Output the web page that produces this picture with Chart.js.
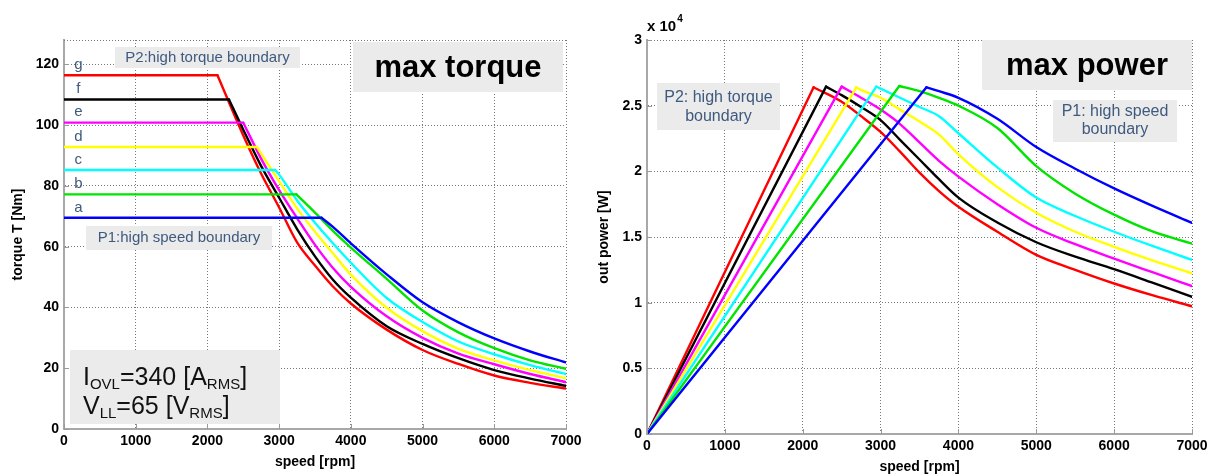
<!DOCTYPE html>
<html><head><meta charset="utf-8">
<script src="https://cdn.jsdelivr.net/npm/chart.js@4.4.0/dist/chart.umd.min.js"></script>
<style>
html,body{margin:0;padding:0;background:#fff;width:1217px;height:474px;overflow:hidden;}
#torque{position:absolute;left:0;top:0;}
#power{position:absolute;left:590px;top:0;}
</style></head><body>
<canvas id="torque" width="590" height="474"></canvas>
<canvas id="power" width="627" height="474"></canvas>
<script>
// ---------- data ----------
const speedTicks  = [0,1000,2000,3000,4000,5000,6000,7000];
const torqueTicks = [0,20,40,60,80,100,120];
const powerTicks  = [0,0.5,1,1.5,2,2.5,3];
const curveLetters = ['a','b','c','d','e','f','g'];
const curveColors  = ['#0000ff','#00e400','#00ffff','#ffff00','#ff00ff','#000000','#ff0000'];
const cornerSpeed  = [3590,3240,2945,2690,2500,2300,2140];          // rpm
const flatTorque   = [69.5,77.2,85.2,92.8,100.8,108.4,116.4];        // Nm
const peakPower    = [2.64,2.65,2.645,2.64,2.645,2.645,2.64];        // x10^4 W
const speedGrid    = [2500,2750,3000,3250,3500,3750,4000,4500,5000,5500,6000,6500,7000];
const torqueA = [null,null,null,null,null,66.5,61.1,50.9,41.7,35.1,29.8,25.5,21.9];
const torqueB = [null,null,null,null,71.2,65.2,59.7,49.4,39.0,31.8,26.6,22.6,19.8];
const torqueC = [null,null,83.7,75.2,67.9,61.1,54.7,43.1,35.2,28.8,24.6,21.0,18.1];
const torqueD = [null,90.6,81.5,72.6,64.9,57.8,50.8,39.9,32.2,26.4,22.6,19.4,16.7];
const torqueE = [null,88.9,78.6,69.4,60.6,53.0,46.8,37.1,30.0,24.8,21.3,18.1,15.4];
const torqueF = [98.5,86.5,76.1,65.8,56.8,49.1,43.2,33.8,28.0,23.3,19.4,16.6,14.2];
const torqueG = [96.6,84.0,72.9,61.4,53.8,46.9,41.3,32.7,26.0,21.4,17.6,15.2,13.3];
const powerA = [null,null,null,null,null,2.61,2.56,2.40,2.185,2.02,1.87,1.735,1.608];
const powerB = [null,null,null,null,2.61,2.56,2.50,2.33,2.04,1.83,1.67,1.54,1.45];
const powerC = [null,null,2.63,2.56,2.49,2.42,2.29,2.03,1.80,1.66,1.54,1.43,1.326];
const powerD = [null,2.62,2.56,2.47,2.38,2.28,2.13,1.88,1.685,1.54,1.425,1.32,1.223];
const powerE = [null,2.56,2.47,2.36,2.22,2.08,1.96,1.75,1.57,1.445,1.335,1.23,1.126];
const powerF = [2.58,2.49,2.39,2.24,2.09,1.94,1.80,1.61,1.46,1.35,1.255,1.15,1.044];
const powerG = [2.53,2.42,2.30,2.15,1.99,1.85,1.73,1.54,1.364,1.25,1.146,1.055,0.972];
const torqueTitle = 'torque T [Nm]';
const powerTitle  = 'out power [W]';
const speedTitle  = 'speed [rpm]';

const torqueSets = [torqueA,torqueB,torqueC,torqueD,torqueE,torqueF,torqueG];
const powerSets  = [powerA,powerB,powerC,powerD,powerE,powerF,powerG];

// ---------- styling ----------
const FONT = "'Liberation Sans', Arial, sans-serif";
const LABEL_BLUE = '#3e5a7e';
const BOX_GRAY = '#ebebeb';
const GRID = '#7a7a7a';
Chart.defaults.font.family = FONT;

// each curve = a straight first part (flat torque / linear power rise) + a smooth decaying part
function tail(i, sets){
  const pts = [];
  speedGrid.forEach((s,k)=>{ const v = sets[i][k]; if (v !== null) pts.push({x:s,y:v}); });
  return pts;
}
function torqueParts(i){
  const c = {x:cornerSpeed[i], y:flatTorque[i]};
  return [[{x:0,y:flatTorque[i]}, c], [c].concat(tail(i, torqueSets))];
}
function powerParts(i){
  const c = {x:cornerSpeed[i], y:peakPower[i]};
  return [[{x:0,y:0}, c], [c].concat(tail(i, powerSets))];
}
function datasets(builder){
  const out = [];
  curveLetters.forEach((l,i)=>{
    const [straight, curve] = builder(i);
    const base = { borderColor: curveColors[i], backgroundColor: curveColors[i], borderWidth: 2.4, pointRadius: 0, fill: false };
    out.push(Object.assign({label: l, data: straight, tension: 0}, base));
    out.push(Object.assign({label: l + '-tail', data: curve, cubicInterpolationMode: 'monotone'}, base));
  });
  return out;
}

function xScale(height, titlePad){
  return {
    type:'linear', min:0, max:7000, position:'bottom',
    afterBuildTicks: s => { s.ticks = speedTicks.map(v=>({value:v})); },
    afterFit: s => { s.height = height; },
    ticks:{ callback: v => String(v), color:'#000', font:{size:14, weight:'bold'}, padding:4, maxRotation:0, autoSkip:false },
    grid:{ color:GRID, lineWidth:1, drawTicks:false },
    border:{ color:'#a8a8a8', width:2, dash:[1,2] },
    title:{ display:true, text:speedTitle, color:'#000', font:{size:14, weight:'bold', lineHeight:1}, padding:{top:0,bottom:titlePad} }
  };
}
function yScale(width, max, tickVals, title, titlePad){
  return {
    type:'linear', min:0, max:max, position:'left',
    afterBuildTicks: s => { s.ticks = tickVals.map(v=>({value:v})); },
    afterFit: s => { s.width = width; },
    ticks:{ callback: v => String(v), color:'#000', font:{size:14, weight:'bold'}, padding:5, autoSkip:false },
    grid:{ color:GRID, lineWidth:1, drawTicks:false },
    border:{ color:'#a8a8a8', width:2, dash:[1,2] },
    title:{ display:true, text:title, color:'#000', font:{size:14, weight:'bold', lineHeight:1}, padding:{top:titlePad,bottom:0} }
  };
}

// inward tick marks (MATLAB style)
const innerTicks = {
  id:'innerTicks',
  afterDatasetsDraw(chart){
    const {ctx, chartArea:a, scales:{x,y}} = chart;
    ctx.save(); ctx.strokeStyle='#9a9a9a'; ctx.lineWidth=1;
    x.ticks.forEach(t=>{ const px=Math.round(x.getPixelForValue(t.value))+0.5; ctx.beginPath(); ctx.moveTo(px,a.bottom); ctx.lineTo(px,a.bottom-5); ctx.stroke(); });
    y.ticks.forEach(t=>{ const py=Math.round(y.getPixelForValue(t.value))+0.5; ctx.beginPath(); ctx.moveTo(a.left,py); ctx.lineTo(a.left+5,py); ctx.stroke(); });
    ctx.restore();
  }
};

function box(ctx,x0,y0,x1,y1){ ctx.fillStyle=BOX_GRAY; ctx.fillRect(x0,y0,x1-x0,y1-y0); }
function text(ctx,str,x,y,font,color,align){
  ctx.font=font; ctx.fillStyle=color; ctx.textAlign=align||'center'; ctx.textBaseline='middle'; ctx.fillText(str,x,y);
}
function richLine(ctx, runs, x, baseline, big, small){
  ctx.textAlign='left'; ctx.textBaseline='alphabetic'; ctx.fillStyle='#111';
  let cx = x;
  runs.forEach(([s,sub])=>{
    ctx.font = sub ? `${small}px ${FONT}` : `${big}px ${FONT}`;
    ctx.fillText(s, cx, baseline + (sub ? 4 : 0));
    cx += ctx.measureText(s).width;
  });
}

const torqueNotes = {
  id:'torqueNotes',
  beforeDatasetsDraw(chart){
    const {ctx, chartArea:a, scales:{x,y}} = chart;
    ctx.save();
    ctx.strokeStyle=GRID; ctx.lineWidth=1; ctx.setLineDash([1,2]);
    ctx.beginPath(); ctx.moveTo(a.left, a.top+0.5); ctx.lineTo(a.right, a.top+0.5); ctx.stroke();
    ctx.setLineDash([]);
    box(ctx,115,47,300,68);
    text(ctx,'P2:high torque boundary',207.5,57.5,`15px ${FONT}`,LABEL_BLUE);
    box(ctx,86,226,272,250);
    text(ctx,'P1:high speed boundary',179,237.5,`15px ${FONT}`,LABEL_BLUE);
    box(ctx,353,42,563,92);
    text(ctx,'max torque',458,68,`bold 31px ${FONT}`,'#000');
    box(ctx,70,350,280,424);
    richLine(ctx,[['I',0],['OVL',1],['=340 [A',0],['RMS',1],[']',0]],83,385,25,15);
    richLine(ctx,[['V',0],['LL',1],['=65 [V',0],['RMS',1],[']',0]],83,414,25,15);
    curveLetters.forEach((l,i)=>{
      text(ctx,l,x.getPixelForValue(200),y.getPixelForValue(flatTorque[i]+3.4),`15px ${FONT}`,LABEL_BLUE);
    });
    ctx.restore();
  }
};

const powerNotes = {
  id:'powerNotes',
  beforeDatasetsDraw(chart){
    const {ctx} = chart;
    const o = 590;
    ctx.save();
    box(ctx,982-o,40,1192-o,90);
    text(ctx,'max power',1087-o,66,`bold 31px ${FONT}`,'#000');
    box(ctx,657-o,83,780-o,130);
    text(ctx,'P2: high torque',718.5-o,98,`16px ${FONT}`,LABEL_BLUE);
    text(ctx,'boundary',718.5-o,117,`16px ${FONT}`,LABEL_BLUE);
    box(ctx,1053-o,100,1177-o,142);
    text(ctx,'P1: high speed',1115-o,112,`16px ${FONT}`,LABEL_BLUE);
    text(ctx,'boundary',1115-o,130,`16px ${FONT}`,LABEL_BLUE);
    ctx.fillStyle='#000'; ctx.textBaseline='alphabetic'; ctx.textAlign='left';
    ctx.font=`bold 15px ${FONT}`; ctx.fillText('x 10',647-o,31);
    const w = ctx.measureText('x 10').width;
    ctx.font=`bold 10px ${FONT}`; ctx.fillText('4',647-o+w+1,22);
    ctx.restore();
  }
};

const common = {
  responsive:false, animation:false,
  plugins:{ legend:{display:false}, tooltip:{enabled:false} },
  elements:{ line:{ borderCapStyle:'round', borderJoinStyle:'round' } }
};

new Chart(document.getElementById('torque'),{
  type:'line',
  data:{ datasets: datasets(torqueParts) },
  options:Object.assign({}, common, {
    layout:{ padding:{ top:40, right:24, left:0, bottom:0 } },
    scales:{ x: xScale(45,5), y: yScale(64,128,torqueTicks,torqueTitle,11) }
  }),
  plugins:[torqueNotes, innerTicks]
});

new Chart(document.getElementById('power'),{
  type:'line',
  data:{ datasets: datasets(powerParts) },
  options:Object.assign({}, common, {
    layout:{ padding:{ top:40, right:25, left:0, bottom:0 } },
    scales:{ x: xScale(40,0), y: yScale(57,3,powerTicks,powerTitle,7) }
  }),
  plugins:[powerNotes, innerTicks]
});
</script>
</body></html>
